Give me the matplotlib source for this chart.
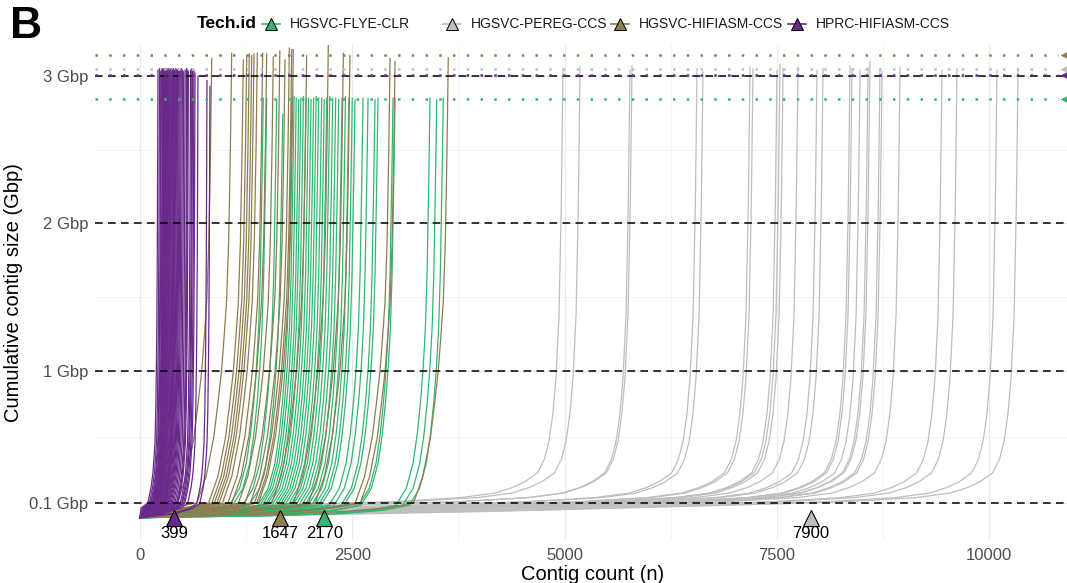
import matplotlib.pyplot as plt
from matplotlib.lines import Line2D

plt.rcParams['font.family'] = ['Liberation Sans', 'DejaVu Sans']

W, H = 1067, 583

tech_ids = ['HGSVC-FLYE-CLR', 'HGSVC-PEREG-CCS', 'HGSVC-HIFIASM-CCS', 'HPRC-HIFIASM-CCS']
tech_colors = ['#33B674', '#BEBEBE', '#8C7E4E', '#6A2A8B']

# contig count (n) and total size (Gbp) of each assembly
flye_n = [1452, 1492, 1610, 1681, 1790, 1815, 1840, 1870, 1895, 1925, 1955, 1985,
          2015, 2045, 2075, 2105, 2140, 2170, 2200, 2235, 2270, 2305, 2340, 2380,
          2420, 2460, 2500, 2532, 2627, 2686, 2768, 2803, 2980, 3004, 3416, 3495, 3572]
flye_size = [2.85, 2.85, 2.84, 2.74, 2.85, 2.86, 2.85, 2.84, 2.85, 2.86, 2.85, 2.85,
             2.84, 2.85, 2.86, 2.85, 2.85, 2.84, 2.85, 2.86, 2.85, 2.85, 2.84, 2.85,
             2.86, 2.85, 2.85, 2.84, 2.85, 2.85, 2.84, 2.85, 2.85, 2.85, 2.85, 2.84, 2.85]

pereg_n = [4982, 5183, 5771, 5795, 6561, 6631, 7185, 7220, 7503, 7538, 7574, 7750, 7974,
           8045, 8363, 8386, 8481, 8575, 8598, 8716, 8740, 8952, 9446, 9623, 10094, 10342]
pereg_size = [3.05, 3.06, 3.04, 3.07, 3.05, 3.03, 3.06, 3.05, 3.04, 3.08, 3.05, 3.06, 3.04,
              3.05, 3.07, 3.05, 3.04, 3.06, 3.10, 3.05, 3.03, 3.06, 3.04, 3.05, 3.04, 3.05]

hifi_n = [845, 1080, 1217, 1257, 1287, 1316, 1343, 1382, 1445, 1492, 1570, 1647,
          1708, 1759, 1787, 1806, 1963, 2218, 2395, 2473, 2945, 3004, 3631]
hifi_size = [3.12, 3.155, 3.11, 3.14, 3.15, 3.14, 3.15, 3.155, 3.155, 3.15, 3.13, 3.17,
             3.11, 3.19, 3.18, 3.18, 3.14, 3.21, 3.155, 3.14, 3.12, 3.10, 3.125]

hprc_n = [212, 230, 245, 252, 264, 270, 276, 282, 288, 294, 300, 306, 312, 318, 325, 332,
          340, 348, 356, 365, 374, 384, 392, 399, 406, 414, 422, 432, 442, 452, 462, 474,
          486, 500, 515, 532, 550, 560, 570, 595, 610, 620, 635, 648, 683, 789, 824]
hprc_size = [3.04, 3.05, 3.03, 3.04, 3.05, 3.04, 3.03, 3.05, 3.04, 3.04, 3.05, 3.03, 3.04,
             3.05, 3.04, 3.03, 3.05, 3.04, 3.04, 3.05, 3.03, 3.04, 3.05, 3.04, 3.04, 3.03,
             3.05, 3.04, 3.04, 3.05, 3.03, 3.04, 3.05, 3.04, 3.03, 3.04, 3.05, 3.04, 3.03,
             3.04, 3.05, 3.03, 3.04, 3.02, 3.00, 2.97, 2.93]

# curve shape per tech: contigs still to come (k) and share of the total size reached there
flye_k = [3000, 2000, 1200, 700, 400, 280, 200, 150, 110, 80, 55, 35, 15, 0]
flye_f = [0.002, 0.005, 0.01, 0.018, 0.03, 0.07, 0.13, 0.2, 0.28, 0.36, 0.45, 0.58, 0.8, 1.0]
pereg_k = [9000, 6000, 5000, 4000, 3000, 2000, 1200, 800, 600, 450, 300, 220, 165, 120,
           83, 47, 20, 0]
pereg_f = [0.004, 0.015, 0.02, 0.025, 0.03, 0.036, 0.045, 0.055, 0.067, 0.08, 0.1, 0.13,
           0.17, 0.23, 0.31, 0.45, 0.7, 1.0]
hifi_k = [3000, 2000, 1200, 700, 410, 300, 210, 160, 118, 85, 59, 35, 15, 0]
hifi_f = [0.003, 0.008, 0.014, 0.022, 0.032, 0.09, 0.175, 0.25, 0.32, 0.4, 0.47, 0.6, 0.8, 1.0]
hprc_k = [400, 200, 120, 80, 60, 45, 35, 25, 15, 8, 3, 0]
hprc_f = [0.01, 0.022, 0.033, 0.07, 0.1, 0.14, 0.17, 0.25, 0.4, 0.6, 0.85, 1.0]

# median contig count and mean assembly size per tech
median_n = [2170, 7900, 1647, 399]
mean_size = [2.845, 3.05, 3.145, 3.01]

y_breaks = [0.1, 1, 2, 3]
y_labels = ['0.1 Gbp', '1 Gbp', '2 Gbp', '3 Gbp']

groups = [
    (flye_n, flye_size, flye_k, flye_f),
    (pereg_n, pereg_size, pereg_k, pereg_f),
    (hifi_n, hifi_size, hifi_k, hifi_f),
    (hprc_n, hprc_size, hprc_k, hprc_f),
]

fig = plt.figure(figsize=(W / 100, H / 100), dpi=100)
# the panel runs past the right edge of the picture (cropped original)
ax = fig.add_axes([95 / W, 1 - 540 / H, (1091 - 95) / W, (540 - 45) / H])
ax.set_xlim(-530, 11201)
ax.set_ylim(-0.151, 3.211)

# cumulative curves, gray first then green, ochre, purple
for i in [1, 0, 2, 3]:
    ns, sizes, ks, fs = groups[i]
    for n, tot in zip(ns, sizes):
        xs = [0] + [n - k for k in ks if k < n]
        ys = [0] + [tot * f for k, f in zip(ks, fs) if k < n]
        ax.plot(xs, ys, color=tech_colors[i], lw=0.9, zorder=2, solid_joinstyle='round')

for y in y_breaks:
    ax.axhline(y, color='black', lw=1.1, ls=(0, (5, 3.5)), zorder=3)

for i in range(4):
    ax.plot([-530, 10813], [mean_size[i]] * 2, color=tech_colors[i], lw=1.8,
            ls=(0, (1, 4.5)), zorder=3)
    ax.plot(10907, mean_size[i], marker='<', ms=9, color=tech_colors[i],
            mec='none', zorder=4)
    ax.plot(median_n[i], 0, marker='^', ms=11, color=tech_colors[i], mec='black',
            mew=0.8, zorder=5, clip_on=False)
    ax.text(median_n[i], -0.055, str(median_n[i]), ha='center', va='top',
            fontsize=12, color='black')

ax.set_xticks([0, 2500, 5000, 7500, 10000])
ax.set_xticks([1250, 3750, 6250, 8750], minor=True)
ax.set_yticks(y_breaks)
ax.set_yticklabels(y_labels)
ax.set_yticks([0.55, 1.5, 2.5], minor=True)
ax.grid(which='major', color='#EBEBEB', lw=0.9, zorder=0)
ax.grid(which='minor', color='#F2F2F2', lw=0.6, zorder=0)
ax.set_axisbelow(True)
ax.tick_params(which='both', length=0, labelsize=12, labelcolor='#4D4D4D')
ax.tick_params(axis='x', pad=6)
ax.tick_params(axis='y', pad=5)
for s in ax.spines.values():
    s.set_visible(False)

ax.set_xlabel('Contig count (n)', fontsize=14.5, labelpad=1)
ax.set_ylabel('Cumulative contig size (Gbp)', fontsize=14.5, labelpad=4)

fig.text(10 / W, 1 - 26 / H, 'B', fontsize=32, fontweight='bold', va='center', ha='left')

# legend drawn by hand in one row
ly = 1 - 24 / H
fig.text(197 / W, ly, 'Tech.id', fontsize=12.5, fontweight='bold', va='center', ha='left')
key_x = [271, 452, 620, 797]
for i in range(4):
    fig.add_artist(Line2D([(key_x[i] - 9) / W, (key_x[i] + 9) / W], [ly, ly],
                          transform=fig.transFigure, color=tech_colors[i], lw=1.2))
    fig.add_artist(Line2D([key_x[i] / W], [ly], transform=fig.transFigure,
                          marker='^', ms=9, color=tech_colors[i], mec='black', mew=0.7))
    fig.text((key_x[i] + 19) / W, ly, tech_ids[i], fontsize=10, va='center', ha='left',
             color='#1A1A1A')

fig.savefig('out.png', dpi=100)
